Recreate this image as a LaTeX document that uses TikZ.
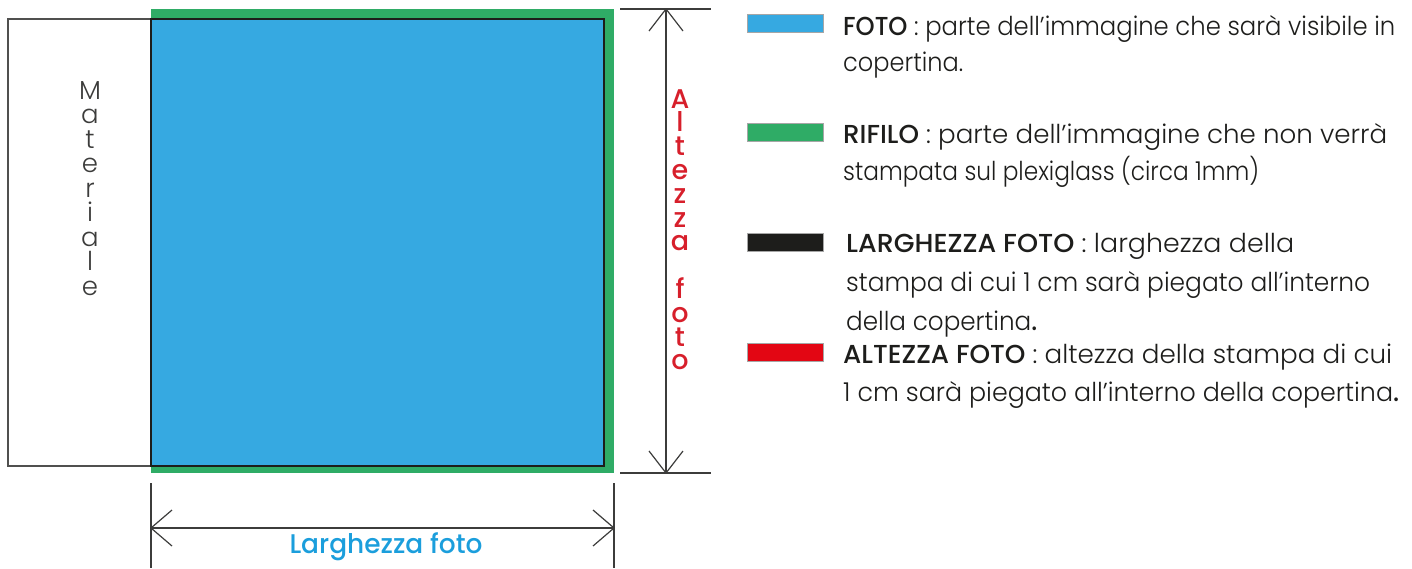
\documentclass[tikz,border=0pt]{standalone}
\usepackage{fontspec}
\setmainfont{Poppins}[UprightFont=* Light, BoldFont=* Medium]
\newfontfamily\medfont{Poppins Medium}
\definecolor{fotoblue}{RGB}{54,169,225}
\definecolor{rifgreen}{RGB}{47,172,102}
\definecolor{swblack}{RGB}{29,29,27}
\definecolor{swred}{RGB}{227,6,19}
\definecolor{altred}{RGB}{215,31,43}
\definecolor{largcyan}{RGB}{27,158,220}
\definecolor{linegray}{RGB}{60,60,59}
\newsavebox\fitbox
\newcommand\fitto[2]{\sbox\fitbox{#2}\pgfmathsetmacro\fitfac{#1/\the\wd\fitbox}\scalebox{\fitfac}[1]{\usebox\fitbox}}
\begin{document}
\begin{tikzpicture}[x=1pt,y=-1pt,
  dimline/.style={draw=linegray,line width=1.2pt},
  legtext/.style={anchor=base west,inner sep=0pt,font=\fontsize{26}{30}\selectfont,text=swblack},
  swatch/.style={draw=gray!70,line width=0.8pt},
  matl/.style={anchor=base,inner sep=0pt,text height=19pt,text depth=4pt,font=\fontsize{26}{26}\selectfont,text=linegray},
  altl/.style={anchor=base,inner sep=0pt,text height=19pt,text depth=4pt,font=\medfont\fontsize{27}{27}\selectfont,text=altred}]
\useasboundingbox (0,0) rectangle (1412,568);
% materiale
\draw[draw=linegray!90,line width=1.3pt] (8,19) rectangle (151,466);
% rifilo (green) and foto (blue)
\fill[rifgreen] (151,9) rectangle (614,473);
\draw[fill=fotoblue,draw=swblack,line width=1.6pt] (151,19) rectangle (604,466);
% Materiale letters
\foreach \ch [count=\i from 0] in {M,a,t,e,r,i,a,l,e}
  \node[matl] (mat\i) at (90,{99+24.5*\i}) {\ch};
% Altezza foto letters
\foreach \ch/\k in {A/0,l/1,t/2,e/3,z/4,z/5,a/6,f/8,o/9,t/10,o/11}
  \node[altl] (alt\k) at (680,{108+23.8*\k}) {\ch};
% vertical dimension
\coordinate (vt) at (666,9);
\coordinate (vb) at (666,473);
\draw[dimline] (620,9) coordinate (vtl) -- (711,9) coordinate (vtr);
\draw[dimline] (620,473) coordinate (vbl) -- (711,473) coordinate (vbr);
\draw[dimline] (vt) -- (vb);
\draw[dimline] (649,31) -- (vt) -- (683,31);
\draw[dimline] (649,451) -- (vb) -- (683,451);
% horizontal dimension
\coordinate (hl) at (151,528);
\coordinate (hr) at (614,528);
\draw[dimline] (151,483) -- (151,568);
\draw[dimline] (614,483) -- (614,568);
\draw[dimline] (hl) -- (hr);
\draw[dimline] (172,510) -- (hl) -- (172,546);
\draw[dimline] (593,510) -- (hr) -- (593,546);
\node[anchor=base,inner sep=0pt,font=\medfont\fontsize{27}{27}\selectfont,text=largcyan] (larg) at (386,553) {\fitto{193}{Larghezza foto}};
% legend swatches
\draw[swatch,fill=fotoblue] (747,14) rectangle (823,32);
\draw[swatch,fill=rifgreen] (747,123) rectangle (823,141);
\draw[swatch,fill=swblack] (747,233) rectangle (823,251);
\draw[swatch,fill=swred] (747,343) rectangle (823,361);
% legend texts
\node[legtext] (l1) at (843,35.5) {\fitto{552}{\textbf{FOTO} : parte dell’immagine che sarà visibile in}};
\node[legtext] (l2) at (843,71.5) {\fitto{120}{copertina.}};
\node[legtext] (l3) at (843,143.5) {\fitto{544}{\textbf{RIFILO} : parte dell’immagine che non verrà}};
\node[legtext] (l4) at (843,180) {\fitto{416}{stampata sul plexiglass (circa 1mm)}};
\node[legtext] (l5) at (846,252) {\fitto{448}{\textbf{LARGHEZZA FOTO} : larghezza della}};
\node[legtext] (l6) at (846,291.5) {\fitto{524}{stampa di cui 1 cm sarà piegato all’interno}};
\node[legtext] (l7) at (846,330) {\fitto{191}{della copertina\textbf{.}}};
\node[legtext] (l8) at (843,363) {\fitto{549}{\textbf{ALTEZZA FOTO} : altezza della stampa di cui}};
\node[legtext] (l9) at (843,401.5) {\fitto{556}{1 cm sarà piegato all’interno della copertina\textbf{.}}};
\end{tikzpicture}
\end{document}
